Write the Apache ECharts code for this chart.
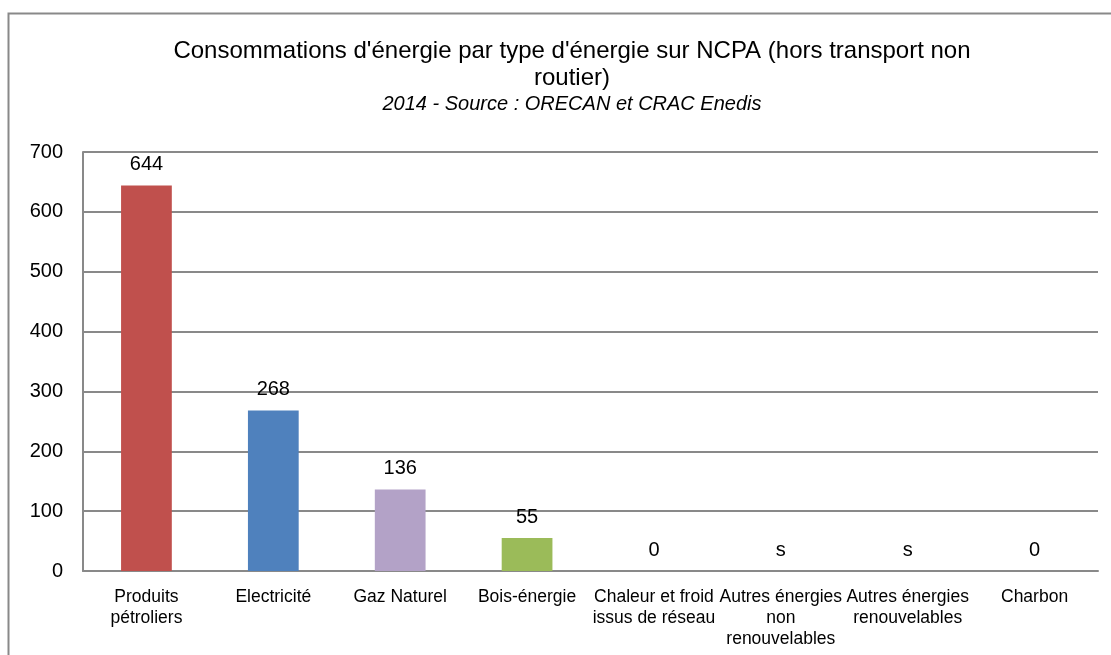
<!DOCTYPE html>
<html>
<head>
<meta charset="utf-8">
<script src="https://cdn.jsdelivr.net/npm/echarts@6/dist/echarts.min.js"></script>
<style>
  html, body { margin: 0; padding: 0; background: #fff; }
  #chart { width: 1111px; height: 655px; }
</style>
</head>
<body>
<div id="chart"></div>
<script>
// categories and values ('s' = secret statistique)
const categories = ['Produits\npétroliers', 'Electricité', 'Gaz Naturel', 'Bois-énergie',
  'Chaleur et froid\nissus de réseau', 'Autres énergies\nnon\nrenouvelables',
  'Autres énergies\nrenouvelables', 'Charbon'];
const values = [644, 268, 136, 55, 0, 's', 's', 0];
const barColors = ['#C0504D', '#4F81BD', '#B3A2C7', '#9BBB59', '#4BACC6', '#F79646', '#2C4D75', '#772C2A'];
const yTicks = [0, 100, 200, 300, 400, 500, 600, 700];

const font = '"Liberation Sans", Arial, sans-serif';

let chart = echarts.init(document.getElementById('chart'));
let option = {
  backgroundColor: '#fff',
  animation: false,
  title: {
    text: "Consommations d'énergie par type d'énergie sur NCPA (hors transport non\nroutier)",
    subtext: '2014 - Source : ORECAN et CRAC Enedis',
    left: 567,
    top: 33,
    textAlign: 'center',
    itemGap: 2,
    textStyle: { fontFamily: font, fontSize: 24, fontWeight: 'normal', color: '#000', lineHeight: 27 },
    subtextStyle: { fontFamily: font, fontSize: 20, fontStyle: 'italic', color: '#000' }
  },
  graphic: [{
    type: 'rect',
    shape: { x: 8.5, y: 13.5, width: 1200, height: 700 },
    style: { fill: 'none', stroke: '#898989', lineWidth: 2 },
    silent: true
  }],
  grid: { left: 83, right: 13, top: 152, bottom: 84 },
  xAxis: {
    type: 'category',
    data: categories,
    axisLine: { lineStyle: { color: '#898989', width: 2 } },
    axisTick: { show: false },
    axisLabel: { interval: 0, fontFamily: font, fontSize: 17.5, color: '#000', lineHeight: 21, margin: 16 }
  },
  yAxis: {
    type: 'value',
    min: yTicks[0],
    max: yTicks[yTicks.length - 1],
    interval: 100,
    axisLine: { show: true, lineStyle: { color: '#898989', width: 2 } },
    axisTick: { show: false },
    splitLine: { lineStyle: { color: '#898989', width: 2 } },
    axisLabel: { fontFamily: font, fontSize: 20, color: '#000', margin: 20 }
  },
  series: [{
    type: 'bar',
    barWidth: '40%',
    data: values.map((v, i) => ({
      value: v === 's' ? 0 : v,
      itemStyle: { color: barColors[i] },
      label: { formatter: String(v) }
    })),
    label: {
      show: true,
      position: 'top',
      distance: 11,
      fontFamily: font,
      fontSize: 20,
      color: '#000'
    }
  }]
};
chart.setOption(option);
</script>
</body>
</html>
